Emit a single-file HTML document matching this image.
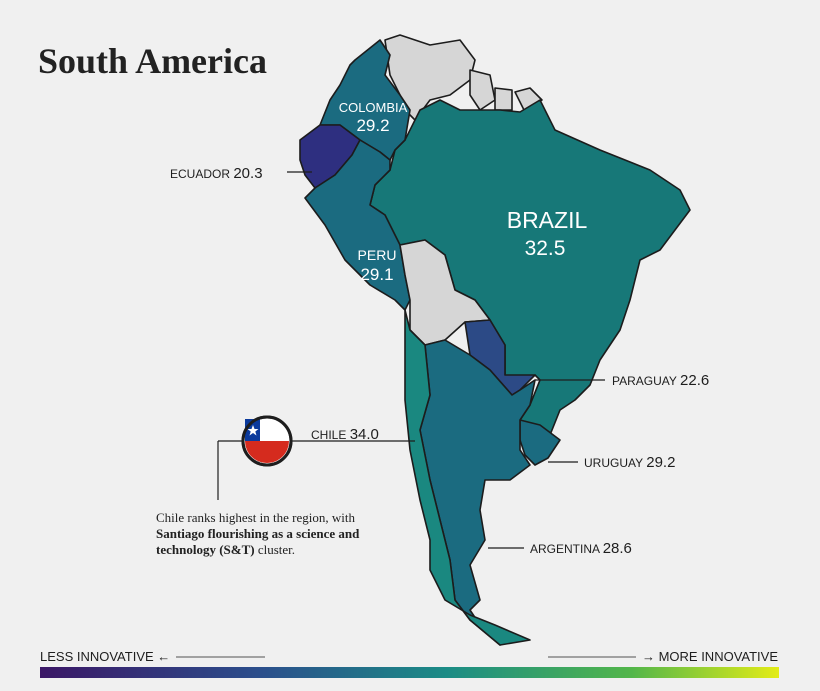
<!DOCTYPE html>
<html><head><meta charset="utf-8"><style>
body{margin:0;background:#f0f0f0;}
svg{display:block}
.l{font-family:"Liberation Sans",sans-serif;}
</style></head><body>
<svg width="820" height="691" viewBox="0 0 820 691" xmlns="http://www.w3.org/2000/svg">
<defs><linearGradient id="g" x1="0" x2="1"><stop offset="0" stop-color="#3b1766"/><stop offset="0.3" stop-color="#2b4f8c"/><stop offset="0.55" stop-color="#1b8c86"/><stop offset="0.8" stop-color="#52b64a"/><stop offset="1" stop-color="#e3ec17"/></linearGradient></defs>
<rect width="820" height="691" fill="#f0f0f0"/>
<text x="38" y="73" font-family="Liberation Serif,serif" font-weight="bold" font-size="36" fill="#222">South America</text>
<g stroke="#1c1c1c" stroke-width="1.6" stroke-linejoin="round">
<polygon fill="#d6d6d6" points="385,40 400,35 430,45 460,40 475,60 470,80 450,95 430,100 415,120 405,110 400,95 390,75"/>
<polygon fill="#d6d6d6" points="470,70 490,75 495,100 480,110 470,95"/>
<polygon fill="#d6d6d6" points="495,88 512,90 512,110 495,110"/>
<polygon fill="#d6d6d6" points="515,92 530,88 542,100 525,112"/>
<polygon fill="#177878" points="405,140 420,110 440,100 460,110 480,110 500,110 520,112 540,100 555,130 600,150 650,170 680,190 690,210 675,230 660,250 640,260 630,300 620,330 600,360 590,385 575,400 560,410 548,440 535,452 520,420 530,405 540,380 535,375 515,390 505,375 505,345 490,320 475,300 455,290 445,255 425,240 400,245 385,215 370,205 375,185 390,170 395,150"/>
<polygon fill="#1b6b80" points="355,60 380,40 390,55 385,75 400,95 410,110 405,140 395,150 390,160 380,152 360,140 340,125 320,125 330,100 340,85 350,65"/>
<polygon fill="#2e2f80" points="300,140 320,125 340,125 360,140 352,155 335,175 315,188 305,175 300,160"/>
<polygon fill="#1b6b80" points="315,188 335,175 352,155 360,140 380,152 390,160 390,170 375,185 370,205 385,215 400,245 405,275 410,300 405,310 395,300 370,285 345,260 325,225 305,198"/>
<polygon fill="#d6d6d6" points="400,245 425,240 445,255 455,290 475,300 490,320 465,322 445,340 425,345 410,330 410,300 405,275"/>
<polygon fill="#2c4a86" points="465,322 490,320 505,345 505,375 535,375 520,390 512,395 490,370 470,355"/>
<polygon fill="#1b6b80" points="520,420 540,425 560,440 548,458 535,465 525,455 520,440"/>
<polygon fill="#1b6b80" points="425,345 445,340 470,355 490,370 512,395 520,390 535,380 530,405 520,420 520,450 530,465 510,480 485,480 480,510 485,540 470,565 480,600 470,610 480,625 510,640 500,645 470,620 455,600 450,560 440,520 430,480 420,430 430,395"/>
<polygon fill="#1a8880" points="405,310 410,330 425,345 430,395 420,430 430,480 440,520 450,560 455,600 470,620 500,645 530,640 495,625 470,615 445,600 430,570 430,540 420,500 410,450 405,400 405,340"/>
</g>
<g fill="#1e1e1e" stroke="#1e1e1e" stroke-width="1.2">
<line x1="287" y1="172" x2="312" y2="172"/>
<line x1="292" y1="441" x2="415" y2="441"/>
<line x1="218" y1="441" x2="245" y2="441"/>
<line x1="218" y1="441" x2="218" y2="500"/>
<line x1="535" y1="380" x2="605" y2="380"/>
<line x1="548" y1="462" x2="578" y2="462"/>
<line x1="488" y1="548" x2="524" y2="548"/>
<line x1="176" y1="657" x2="265" y2="657" stroke-width="0.8"/>
<line x1="548" y1="657" x2="636" y2="657" stroke-width="0.8"/>
</g>
<circle cx="267" cy="441" r="24" fill="#fff" stroke="#1e1e1e" stroke-width="3"/>
<path d="M245,441 A22,22 0 0 0 289,441 Z" fill="#d52b1e"/>
<rect x="245" y="419" width="15" height="22" fill="#0b3a9c"/>
<path d="M253,425 l1.5,4 4,0 -3.2,2.5 1.2,4 -3.5,-2.5 -3.5,2.5 1.2,-4 -3.2,-2.5 4,0z" fill="#fff"/>
<circle cx="267" cy="441" r="24" fill="none" stroke="#1e1e1e" stroke-width="3"/>
<g class="l" fill="#fff" text-anchor="middle" font-weight="bold">
<text x="373" y="112" font-size="13" font-weight="normal">COLOMBIA</text>
<text x="373" y="131" font-size="17" font-weight="normal">29.2</text>
<text x="377" y="260" font-size="14" font-weight="normal">PERU</text>
<text x="377" y="280" font-size="17" font-weight="normal">29.1</text>
<text x="547" y="228" font-size="23" font-weight="normal">BRAZIL</text>
<text x="545" y="255" font-size="21" font-weight="normal">32.5</text>
</g>
<g class="l" fill="#1e1e1e">
<text x="170" y="178" font-size="12">ECUADOR <tspan font-size="15">20.3</tspan></text>
<text x="311" y="439" font-size="12">CHILE <tspan font-size="15">34.0</tspan></text>
<text x="612" y="385" font-size="12">PARAGUAY <tspan font-size="15">22.6</tspan></text>
<text x="584" y="467" font-size="12">URUGUAY <tspan font-size="15">29.2</tspan></text>
<text x="530" y="553" font-size="12">ARGENTINA <tspan font-size="15">28.6</tspan></text>
<text x="40" y="661" font-size="13">LESS INNOVATIVE ←</text>
<text x="778" y="661" font-size="13" text-anchor="end">→ MORE INNOVATIVE</text>
</g>
<g font-family="Liberation Serif,serif" font-size="13" fill="#222">
<text x="156" y="522">Chile ranks highest in the region, with</text>
<text x="156" y="538" font-weight="bold">Santiago flourishing as a science and</text>
<text x="156" y="554"><tspan font-weight="bold">technology (S&amp;T)</tspan> cluster.</text>
</g>
<rect x="40" y="667" width="739" height="11" fill="url(#g)"/>
</svg>
</body></html>
